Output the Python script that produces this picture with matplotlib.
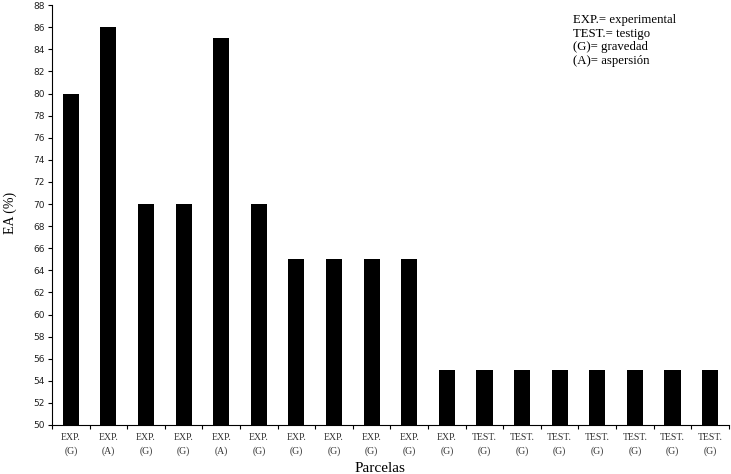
import numpy as np
import matplotlib
matplotlib.use('Agg')
import matplotlib.pyplot as plt

categorias = ['EXP.\n(G)', 'EXP.\n(A)', 'EXP.\n(G)', 'EXP.\n(G)', 'EXP.\n(A)', 'EXP.\n(G)',
              'EXP.\n(G)', 'EXP.\n(G)', 'EXP.\n(G)', 'EXP.\n(G)', 'EXP.\n(G)',
              'TEST.\n(G)', 'TEST.\n(G)', 'TEST.\n(G)', 'TEST.\n(G)', 'TEST.\n(G)', 'TEST.\n(G)', 'TEST.\n(G)']
ea = [80, 86, 70, 70, 85, 70, 65, 65, 65, 65, 55, 55, 55, 55, 55, 55, 55, 55]
yticks = np.arange(50, 89, 2)

fig = plt.figure(figsize=(7.31, 4.74), dpi=100)
ax = fig.add_axes([0.0711, 0.1034, 0.926, 0.8856])

x = np.arange(len(ea))
ax.bar(x, ea, width=0.43, color='black')
ax.set_ylim(50, 88)
ax.set_xlim(-0.5, len(ea) - 0.5)
ax.set_yticks(yticks)
ax.set_yticklabels([str(v) for v in yticks], fontsize=6.5, family='DejaVu Sans', color='#222222')

# ticks at the category borders, labels in the middle
ax.set_xticks(np.arange(-0.5, len(ea), 1))
ax.set_xticklabels([])
ax.set_xticks(x, minor=True)
ax.set_xticklabels(categorias, minor=True, fontsize=7, family='Liberation Serif', color='#333333',
                   linespacing=1.55)
ax.tick_params(axis='x', which='minor', length=0, pad=6)
ax.tick_params(axis='x', which='major', length=3, width=0.8)
ax.tick_params(axis='y', length=3, width=0.8, pad=2)

for s in ['top', 'right']:
    ax.spines[s].set_visible(False)

fig.text(10 / 731, 1 - 213 / 474, 'EA (%)', family='Liberation Serif', fontsize=10,
         rotation=90, ha='center', va='center')
fig.text(380 / 731, 1 - 469 / 474, 'Parcelas', family='Liberation Serif', fontsize=11,
         ha='center', va='center')

fig.text(573 / 731, 1 - 14 / 474, 'EXP.= experimental\nTEST.= testigo\n(G)= gravedad\n(A)= aspersión',
         family='Liberation Serif', fontsize=9.2, va='top', linespacing=1.17)

fig.savefig('out.png', dpi=100)
